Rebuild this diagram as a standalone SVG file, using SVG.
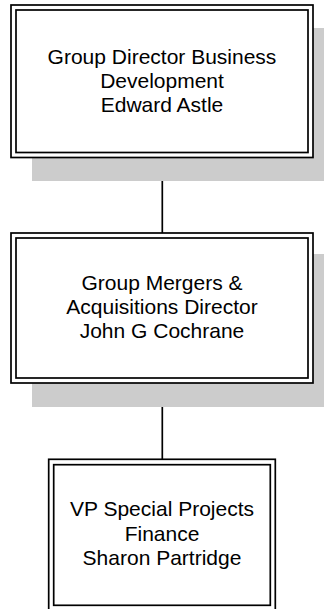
<svg xmlns="http://www.w3.org/2000/svg" width="324" height="609" viewBox="0 0 324 609">
<style>
.shadow{fill:#cccccc;stroke:none}
.frame{fill:none;stroke:#000;stroke-width:1.7}
.bg{fill:#fff;stroke:none}
.t{font-family:"Liberation Sans",Arial,sans-serif;font-size:21px;fill:#000;text-anchor:middle}
.conn{stroke:#000;stroke-width:1.7;fill:none}
</style>
<rect width="324" height="609" fill="#fff"/>
<g id="connectors">
<line class="conn" x1="162.3" y1="157" x2="162.3" y2="233"/>
<line class="conn" x1="162.3" y1="383" x2="162.3" y2="459"/>
</g>
<g id="node1">
<rect class="shadow" x="32" y="28" width="300" height="153"/>
<rect class="bg" x="11" y="5" width="302" height="152.5"/>
<rect class="frame" x="11" y="5" width="302" height="152.5"/>
<rect class="frame" x="16" y="10" width="292" height="142.5"/>
<text class="t" x="162" y="63.5">Group Director Business</text>
<text class="t" x="162" y="87.5">Development</text>
<text class="t" x="162" y="111.5">Edward Astle</text>
</g>
<g id="node2">
<rect class="shadow" x="32" y="254" width="300" height="153"/>
<rect class="bg" x="11" y="233" width="302" height="150"/>
<rect class="frame" x="11" y="233" width="302" height="150"/>
<rect class="frame" x="16" y="238" width="292" height="140"/>
<text class="t" x="162" y="289.5">Group Mergers &amp;</text>
<text class="t" x="162" y="313.5">Acquisitions Director</text>
<text class="t" x="162" y="337.5">John G Cochrane</text>
</g>
<g id="node3">
<rect class="bg" x="48.7" y="459.3" width="226.6" height="151"/>
<rect class="frame" x="48.7" y="459.3" width="226.6" height="151"/>
<rect class="frame" x="53.7" y="464.7" width="216.6" height="140.6"/>
<text class="t" x="162" y="516">VP Special Projects</text>
<text class="t" x="162" y="540.5">Finance</text>
<text class="t" x="162" y="565">Sharon Partridge</text>
</g>
</svg>
